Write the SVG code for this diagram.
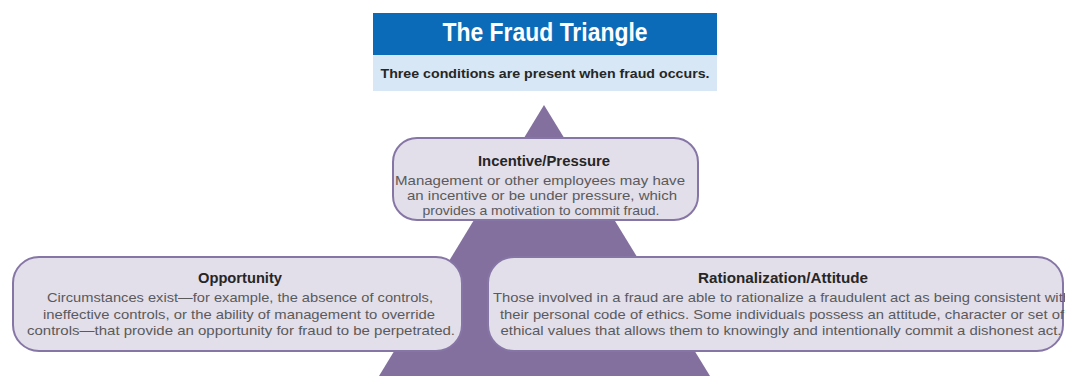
<svg xmlns="http://www.w3.org/2000/svg" width="1065" height="376" viewBox="0 0 1065 376">
  <style>
    .box { fill: #e2deea; stroke: #8676a6; stroke-width: 2; }
    .head { font-family: "Liberation Sans", Arial, sans-serif; font-weight: bold; font-size: 14px; fill: #262626; text-anchor: middle; }
    .body { font-family: "Liberation Sans", Arial, sans-serif; font-size: 13.5px; fill: #5a5a5a; text-anchor: middle; }
  </style>
  <rect width="1065" height="376" fill="#ffffff"/>

  <!-- title banner -->
  <g id="title">
    <rect x="373" y="13" width="344" height="42" fill="#0b6bb8"/>
    <rect x="373" y="55" width="344" height="36" fill="#d7e7f5"/>
    <text x="545" y="41" font-family="Liberation Sans, Arial, sans-serif" font-weight="bold" font-size="26" fill="#ffffff" text-anchor="middle" textLength="205" lengthAdjust="spacingAndGlyphs">The Fraud Triangle</text>
    <text x="545" y="78" font-family="Liberation Sans, Arial, sans-serif" font-weight="bold" font-size="13.5" fill="#262626" text-anchor="middle" textLength="329" lengthAdjust="spacingAndGlyphs">Three conditions are present when fraud occurs.</text>
  </g>

  <!-- the triangle behind the three conditions -->
  <g id="triangle">
    <polygon points="544,105 379,376 710,376" fill="#83709f"/>
  </g>

  <g id="incentive">
    <rect class="box" x="393" y="138" width="305" height="82" rx="24" ry="24"/>
    <text class="head" x="544" y="166" textLength="132" lengthAdjust="spacingAndGlyphs">Incentive/Pressure</text>
    <text class="body" x="540" y="185" textLength="290" lengthAdjust="spacingAndGlyphs">Management or other employees may have</text>
    <text class="body" x="542" y="200" textLength="270" lengthAdjust="spacingAndGlyphs">an incentive or be under pressure, which</text>
    <text class="body" x="541" y="215" textLength="237" lengthAdjust="spacingAndGlyphs">provides a motivation to commit fraud.</text>
  </g>

  <g id="opportunity">
    <rect class="box" x="13" y="257" width="449" height="94" rx="26" ry="26"/>
    <text class="head" x="240" y="283" textLength="84" lengthAdjust="spacingAndGlyphs">Opportunity</text>
    <text class="body" x="240" y="302" textLength="386" lengthAdjust="spacingAndGlyphs">Circumstances exist—for example, the absence of controls,</text>
    <text class="body" x="239" y="319" textLength="392" lengthAdjust="spacingAndGlyphs">ineffective controls, or the ability of management to override</text>
    <text class="body" x="241" y="335" textLength="428" lengthAdjust="spacingAndGlyphs">controls—that provide an opportunity for fraud to be perpetrated.</text>
  </g>

  <g id="rationalization">
    <rect class="box" x="488" y="257" width="575" height="94" rx="26" ry="26"/>
    <text class="head" x="783" y="283" textLength="170" lengthAdjust="spacingAndGlyphs">Rationalization/Attitude</text>
    <text class="body" x="782" y="302" textLength="578" lengthAdjust="spacingAndGlyphs">Those involved in a fraud are able to rationalize a fraudulent act as being consistent with</text>
    <text class="body" x="782" y="319" textLength="564" lengthAdjust="spacingAndGlyphs">their personal code of ethics. Some individuals possess an attitude, character or set of</text>
    <text class="body" x="781" y="335" textLength="561" lengthAdjust="spacingAndGlyphs">ethical values that allows them to knowingly and intentionally commit a dishonest act.</text>
  </g>

  <!-- no connectors in this figure -->
  <g id="connectors"/>
</svg>
